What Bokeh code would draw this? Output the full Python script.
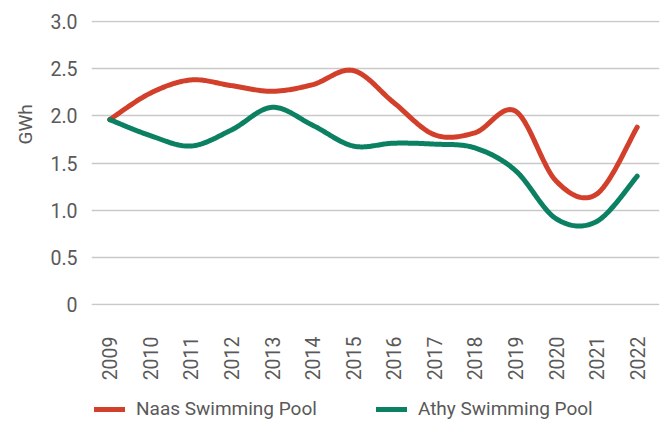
import numpy as np
from math import pi
from bokeh.plotting import figure
from bokeh.layouts import column
from bokeh.models import Range1d, Legend, LegendItem, Title, FixedTicker
from bokeh.embed import file_html
from bokeh.resources import INLINE

years = list(range(2009, 2023))
year_labels = {y: str(y) for y in years}
naas = [1.96, 2.24, 2.38, 2.32, 2.26, 2.33, 2.48, 2.14, 1.80, 1.82, 2.05, 1.31, 1.17, 1.88]
athy = [1.96, 1.79, 1.68, 1.85, 2.09, 1.90, 1.68, 1.71, 1.70, 1.66, 1.42, 0.91, 0.88, 1.36]
y_ticks = [0, 0.5, 1.0, 1.5, 2.0, 2.5, 3.0]
y_tick_labels = {0: "0", 0.5: "0.5", 1.0: "1.0", 1.5: "1.5", 2.0: "2.0", 2.5: "2.5", 3.0: "3.0"}
series_names = ["Naas Swimming Pool", "Athy Swimming Pool"]

RED = "#D2402B"
GREEN = "#0C8062"
TXT = "#595959"
FONT = "Roboto"


def smooth(xs, ys, n=30):
    """Catmull-Rom style Bezier smoothing through the data points (drawing only)."""
    xs = np.asarray(xs, float)
    ys = np.asarray(ys, float)
    px = np.concatenate([[xs[0]], xs, [xs[-1]]])
    py = np.concatenate([[ys[0]], ys, [ys[-1]]])
    t = np.linspace(0, 1, n, endpoint=False)
    ox, oy = [], []
    for i in range(len(xs) - 1):
        p0 = np.array([px[i], py[i]])
        p1 = np.array([px[i + 1], py[i + 1]])
        p2 = np.array([px[i + 2], py[i + 2]])
        p3 = np.array([px[i + 3], py[i + 3]])
        c1 = p1 + (p2 - p0) / 6.0
        c2 = p2 - (p3 - p1) / 6.0
        b = ((1 - t) ** 3)[:, None] * p1 + (3 * (1 - t) ** 2 * t)[:, None] * c1 \
            + (3 * (1 - t) * t ** 2)[:, None] * c2 + (t ** 3)[:, None] * p2
        ox.extend(b[:, 0])
        oy.extend(b[:, 1])
    ox.append(xs[-1])
    oy.append(ys[-1])
    return ox, oy


# ---------------- main chart ----------------
p = figure(width=666, height=390,
           x_range=Range1d(2008.55, 2022.55), y_range=Range1d(-0.01, 3.01),
           output_backend="svg", toolbar_location=None,
           min_border_left=91, min_border_top=20, min_border_right=7,
           min_border_bottom=85)
p.outline_line_color = None
p.background_fill_color = "white"
p.border_fill_color = "white"

p.xgrid.visible = False
p.ygrid.ticker = FixedTicker(ticks=y_ticks)
p.ygrid.grid_line_color = "#C9C9C9"
p.ygrid.grid_line_width = 1.5

for ax in (p.xaxis[0], p.yaxis[0]):
    ax.axis_line_color = None
    ax.major_tick_line_color = None
    ax.minor_tick_line_color = None
    ax.major_tick_out = 0
    ax.major_tick_in = 0
    ax.major_label_text_font = FONT
    ax.major_label_text_font_size = "19.5px"
    ax.major_label_text_color = TXT

p.xaxis.ticker = FixedTicker(ticks=years)
p.xaxis.major_label_overrides = year_labels
p.xaxis.major_label_orientation = pi / 2
p.xaxis.major_label_standoff = 31

p.yaxis.ticker = FixedTicker(ticks=y_ticks)
p.yaxis.major_label_overrides = y_tick_labels
p.yaxis.major_label_standoff = 14

nx, ny = smooth(years, naas)
ax_, ay_ = smooth(years, athy)
p.line(nx, ny, line_width=5, line_color=RED, line_cap="round", line_join="round")
p.line(ax_, ay_, line_width=5, line_color=GREEN, line_cap="round", line_join="round")

gwh = Title(text="GWh", align="left", offset=161, standoff=22,
            text_font=FONT, text_font_size="19px", text_font_style="normal",
            text_color=TXT)
p.add_layout(gwh, "left")

# ---------------- legend strip ----------------
lg = figure(width=666, height=32, x_range=Range1d(0, 1), y_range=Range1d(0, 1),
            output_backend="svg", toolbar_location=None,
            min_border_left=0, min_border_right=0, min_border_top=0, min_border_bottom=0)
lg.outline_line_color = None
lg.axis.visible = False
lg.grid.visible = False
lg.background_fill_color = "white"
lg.border_fill_color = "white"
# series drawn outside this strip's view; only their legend swatches show
k1 = lg.line(years, naas, line_width=5, line_color=RED, line_cap="round")
k2 = lg.line(years, athy, line_width=5, line_color=GREEN, line_cap="round")

legend = Legend(items=[LegendItem(label=series_names[0], renderers=[k1]),
                       LegendItem(label=series_names[1], renderers=[k2])],
                orientation="horizontal", location=(3, 2),
                glyph_width=31, glyph_height=20, label_standoff=11, spacing=59,
                padding=0, margin=0, border_line_color=None, background_fill_alpha=0,
                label_text_font=FONT, label_text_font_size="19px",
                label_text_color=TXT, label_height=20)
lg.add_layout(legend)

layout = column(p, lg, spacing=0)

open("out.html", "w").write(file_html(layout, INLINE))
